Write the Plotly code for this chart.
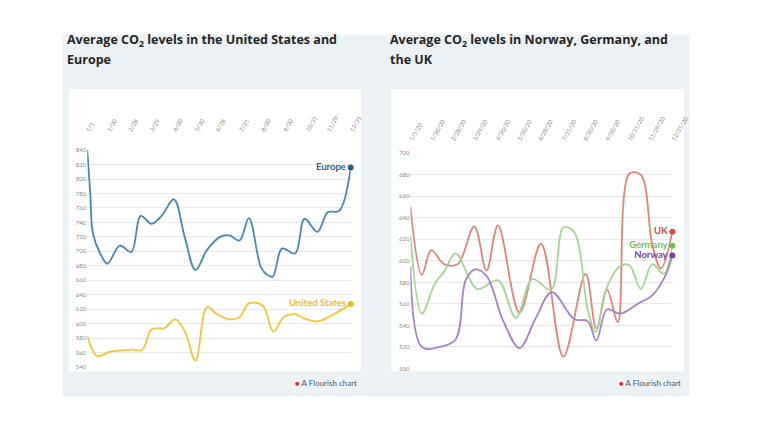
import plotly.graph_objects as go

W, H = 768, 432

# ---------------- data ----------------
tick_dates = ["2020-01-01", "2020-01-30", "2020-02-28", "2020-03-29", "2020-04-30", "2020-05-30",
              "2020-06-28", "2020-07-31", "2020-08-30", "2020-09-30", "2020-10-31", "2020-11-29",
              "2020-12-31"]
left_ticktext = ["1/1", "1/30", "2/28", "3/29", "4/30", "5/30", "6/28", "7/31", "8/30", "9/30",
                 "10/31", "11/29", "12/31"]
right_ticktext = ["1/1/20", "1/30/20", "2/28/20", "3/29/20", "4/30/20", "5/30/20", "6/28/20",
                  "7/31/20", "8/30/20", "9/30/20", "10/31/20", "11/29/20", "12/31/20"]

europe_dates = ["2020-01-01", "2020-01-05", "2020-01-09", "2020-01-19", "2020-01-29", "2020-02-15",
                "2020-03-02", "2020-03-15", "2020-03-30", "2020-04-13", "2020-04-30", "2020-05-15",
                "2020-05-30", "2020-06-15", "2020-07-03", "2020-07-16", "2020-07-30", "2020-08-12",
                "2020-08-29", "2020-09-07", "2020-09-14", "2020-09-27", "2020-10-15", "2020-10-28",
                "2020-11-15", "2020-11-29", "2020-12-15", "2020-12-31"]
europe_vals = [840, 783, 724, 697, 683, 708, 699, 749, 738, 749, 772, 720, 674, 702, 720, 722, 715,
               746, 677, 667, 665, 704, 697, 745, 727, 754, 756, 816]

us_dates = ["2020-01-01", "2020-01-15", "2020-02-01", "2020-02-19", "2020-03-03", "2020-03-17",
            "2020-03-30", "2020-04-17", "2020-05-02", "2020-05-15", "2020-05-30", "2020-06-15",
            "2020-06-29", "2020-07-16", "2020-07-30", "2020-08-12", "2020-08-31", "2020-09-15",
            "2020-09-29", "2020-10-15", "2020-10-28", "2020-11-15", "2020-12-04", "2020-12-31"]
us_vals = [583, 555, 561, 563, 564, 564, 592, 594, 606, 590, 549, 623, 613, 606, 609, 628, 625, 589,
           609, 613, 607, 603, 611, 627]

uk_dates = ["2020-01-01", "2020-01-17", "2020-01-30", "2020-02-17", "2020-03-07", "2020-03-30",
            "2020-04-16", "2020-05-02", "2020-06-01", "2020-07-01", "2020-08-01", "2020-09-01",
            "2020-09-16", "2020-10-01", "2020-10-16", "2020-11-01", "2020-11-17", "2020-12-03",
            "2020-12-15", "2020-12-31"]
uk_vals = [650, 587, 610, 597, 597, 632, 591, 633, 552, 616, 511, 588, 537, 573, 543, 681, 680, 615,
           593, 627]

germany_dates = ["2020-01-01", "2020-01-17", "2020-02-04", "2020-02-17", "2020-03-04", "2020-04-03",
                 "2020-05-02", "2020-05-27", "2020-06-19", "2020-07-15", "2020-08-01", "2020-08-16",
                 "2020-09-04", "2020-09-15", "2020-10-01", "2020-10-19", "2020-11-01", "2020-11-17",
                 "2020-12-03", "2020-12-19", "2020-12-31"]
germany_vals = [624, 551, 579, 590, 607, 574, 582, 547, 583, 573, 631, 627, 555, 534, 576, 595, 596,
                574, 597, 588, 614]

norway_dates = ["2020-01-01", "2020-01-17", "2020-02-10", "2020-03-04", "2020-03-18", "2020-03-31",
                "2020-04-16", "2020-05-10", "2020-06-01", "2020-06-23", "2020-07-16", "2020-08-16",
                "2020-09-04", "2020-09-16", "2020-10-01", "2020-10-19", "2020-11-15", "2020-12-03",
                "2020-12-21", "2020-12-31"]
norway_vals = [595, 520, 520, 527, 582, 592, 586, 543, 519, 546, 571, 546, 544, 526, 555, 551, 561,
               568, 586, 605]

left_series = [("Europe", europe_dates, europe_vals, "#4a86ae", "#2a6290"),
               ("United States", us_dates, us_vals, "#f2c53a", "#ebb82a")]
right_series = [("UK", uk_dates, uk_vals, "#e5837a", "#d94a40"),
                ("Germany", germany_dates, germany_vals, "#a3d694", "#72c25c"),
                ("Norway", norway_dates, norway_vals, "#a782c4", "#7b43a3")]

left_title = ["Average CO<sub>2</sub> levels in the United States and", "Europe"]
right_title = ["Average CO<sub>2</sub> levels in Norway, Germany, and", "the UK"]

FONT = "Lato"
TITLE_FONT = "Open Sans"


def px(x):
    return x / W


def py(y):
    return 1 - y / H


fig = go.Figure()

for xa, ya, series in [("x", "y", left_series), ("x2", "y2", right_series)]:
    for name, d, v, lc, dc in series:
        fig.add_trace(go.Scatter(x=d, y=v, mode="lines", xaxis=xa, yaxis=ya,
                                 line=dict(color=lc, width=1.8, shape="spline", smoothing=1.0),
                                 hoverinfo="skip", showlegend=False, cliponaxis=False))
        fig.add_trace(go.Scatter(x=[d[-1]], y=[v[-1]], mode="markers+text", xaxis=xa, yaxis=ya,
                                 marker=dict(color=dc, size=6),
                                 text=["<b>" + name + "</b>"], textposition="middle left",
                                 textfont=dict(family=FONT, size=9.5, color=dc),
                                 hoverinfo="skip", showlegend=False, cliponaxis=False))

tickfont = dict(family=FONT, size=6, color="#8a8a8a")
grid = dict(showline=False, zeroline=False, gridcolor="#e9e9e9", gridwidth=1, tickfont=tickfont)
xcommon = dict(type="date", range=["2020-01-01", "2020-12-31"], side="top", showgrid=False,
               showline=False, zeroline=False, tickvals=tick_dates, tickangle=-60, ticks="outside",
               tickcolor="rgba(0,0,0,0)", tickfont=tickfont)

fig.update_layout(
    width=W, height=H,
    margin=dict(l=0, r=0, t=0, b=0, pad=0),
    paper_bgcolor="white", plot_bgcolor="rgba(0,0,0,0)",
    font=dict(family=FONT),
    xaxis=dict(domain=[px(86.5), px(357)], anchor="y", ticktext=left_ticktext, ticklen=13,
               **xcommon),
    yaxis=dict(domain=[py(369), py(148.5)], range=[540, 840], anchor="x", dtick=20, tick0=540,
               ticks="", **grid),
    xaxis2=dict(domain=[px(418.3), px(687.3)], anchor="y2", ticktext=right_ticktext, ticklen=7,
                **xcommon),
    yaxis2=dict(domain=[py(370.5), py(151.7)], range=[500, 700], anchor="x2", dtick=20, tick0=500,
                ticks="", **grid),
)

# background panel and white chart boxes
shapes = [
    dict(type="rect", xref="paper", yref="paper", x0=px(61), x1=px(705), y0=py(399), y1=py(31),
         fillcolor="#ebf1f4", line=dict(width=0), layer="below"),
    dict(type="rect", xref="paper", yref="paper", x0=px(67), x1=px(368), y0=py(374), y1=py(86),
         fillcolor="white", line=dict(width=0.5, color="#e2e8eb"), layer="below"),
    dict(type="rect", xref="paper", yref="paper", x0=px(398), x1=px(700), y0=py(374), y1=py(86),
         fillcolor="white", line=dict(width=0.5, color="#e2e8eb"), layer="below"),
]
fig.update_layout(shapes=shapes)

annotations = []
for lines, x0 in [(left_title, 64.5), (right_title, 396.5)]:
    for i, line in enumerate(lines):
        annotations.append(dict(
            text="<b>" + line + "</b>", x=px(x0), y=py(37 + 19 * i), xref="paper", yref="paper",
            showarrow=False, xanchor="left", yanchor="middle", align="left", borderpad=0,
            font=dict(family=TITLE_FONT, size=12.5, color="#262626")))

for xr in (365, 697):
    annotations.append(dict(
        text="<span style='color:#d9312b'>●</span> A Flourish chart",
        x=px(xr), y=py(385), xref="paper", yref="paper", xanchor="right", yanchor="middle",
        showarrow=False, borderpad=0, font=dict(family=FONT, size=8, color="#555555")))

fig.update_layout(annotations=annotations)

fig.write_html("out.html")
